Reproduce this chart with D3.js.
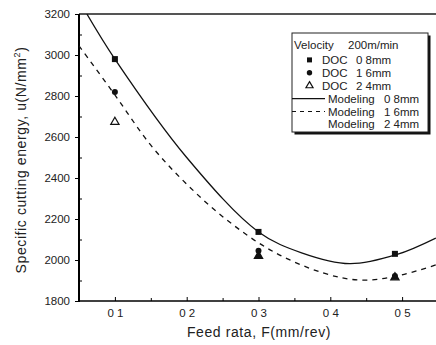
<!DOCTYPE html>
<html>
<head>
<meta charset="utf-8">
<script src="https://cdn.jsdelivr.net/npm/d3@7"></script>
<style>
  body { margin: 0; background: #fff; }
  svg { display: block; font-family: "Liberation Sans", Arial, sans-serif; }
</style>
</head>
<body>
<div id="chart"></div>
<script>
// measured points (feed rate, mm/rev)
const feed = [0.1, 0.3, 0.49];
const doc08 = [2980, 2137, 2030];
const doc16 = [2820, 2045, 1922];
const doc24 = [2673, 2020, 1915];

// modeling curves
const modelF08 = [0.061, 0.1, 0.2, 0.3, 0.36, 0.427, 0.493, 0.547];
const modelU08 = [3200, 2980, 2500, 2137, 2035, 1982, 2027, 2107];
const modelF16 = [0.05, 0.1, 0.15, 0.2, 0.256, 0.32, 0.39, 0.441, 0.493, 0.547];
const modelU16 = [3045, 2805, 2560, 2370, 2195, 2042, 1937, 1902, 1922, 1976];

const xTicks = [0.1, 0.2, 0.3, 0.4, 0.5];
const xTickLabels = ['0 1', '0 2', '0 3', '0 4', '0 5'];
const yTicks = [1800, 2000, 2200, 2400, 2600, 2800, 3000, 3200];

const legendRows = [
  { type: 'title', text: 'Velocity', value: '200m/min' },
  { type: 'square', text: 'DOC', value: '0 8mm' },
  { type: 'circle', text: 'DOC', value: '1 6mm' },
  { type: 'triangle', text: 'DOC', value: '2 4mm' },
  { type: 'solid', text: 'Modeling', value: '0 8mm' },
  { type: 'dashed', text: 'Modeling', value: '1 6mm' },
  { type: 'none', text: 'Modeling', value: '2 4mm' },
];

const width = 436;
const height = 345;
const plot = { left: 79, right: 438, top: 14, bottom: 301 };

const svg = d3.select('#chart')
  .append('svg')
  .attr('width', width)
  .attr('height', height);

const x = d3.scaleLinear().domain([0.05, 0.55]).range([plot.left, plot.right]);
const y = d3.scaleLinear().domain([1800, 3200]).range([plot.bottom, plot.top]);

svg.append('defs').append('clipPath').attr('id', 'clip')
  .append('rect')
  .attr('x', plot.left).attr('y', plot.top)
  .attr('width', plot.right - plot.left).attr('height', plot.bottom - plot.top);

// top frame line
svg.append('line')
  .attr('x1', plot.left).attr('x2', width)
  .attr('y1', y(3200)).attr('y2', y(3200))
  .attr('stroke', '#555').attr('stroke-width', 2);

// axes
const xAxis = svg.append('g')
  .attr('transform', `translate(0,${plot.bottom})`)
  .call(d3.axisBottom(x).tickValues(xTicks).tickSize(-4)
    .tickFormat((d, i) => xTickLabels[i]));
xAxis.select('.domain').remove();
xAxis.selectAll('.tick text').attr('dy', 13).attr('font-size', 11.5).attr('fill', '#222');

svg.append('g')
  .attr('transform', `translate(0,${plot.bottom})`)
  .call(d3.axisBottom(x).tickValues([0.15, 0.25, 0.35, 0.45]).tickSize(-3).tickFormat(''))
  .select('.domain').remove();

const yAxis = svg.append('g')
  .attr('transform', `translate(${plot.left},0)`)
  .call(d3.axisLeft(y).tickValues(yTicks).tickSize(4).tickPadding(5).tickFormat(d3.format('d')));
yAxis.select('.domain').remove();
yAxis.selectAll('.tick text').attr('font-size', 11.5).attr('fill', '#222');

svg.append('g')
  .attr('transform', `translate(${plot.left},0)`)
  .call(d3.axisLeft(y).tickValues(d3.range(1900, 3200, 200)).tickSize(-3).tickFormat(''))
  .select('.domain').remove();

svg.append('line')
  .attr('x1', plot.left).attr('x2', width)
  .attr('y1', plot.bottom).attr('y2', plot.bottom)
  .attr('stroke', '#000').attr('stroke-width', 1.5);
svg.append('line')
  .attr('x1', plot.left).attr('x2', plot.left)
  .attr('y1', plot.top).attr('y2', plot.bottom + 1)
  .attr('stroke', '#000').attr('stroke-width', 2);

// axis titles
svg.append('text')
  .attr('x', 259).attr('y', 337)
  .attr('text-anchor', 'middle')
  .attr('font-size', 14).attr('letter-spacing', 0.6).attr('fill', '#222')
  .text('Feed rata, F(mm/rev)');

const yTitle = svg.append('text')
  .attr('transform', 'translate(26,160) rotate(-90)')
  .attr('text-anchor', 'middle')
  .attr('font-size', 14).attr('letter-spacing', 0.6).attr('fill', '#222');
yTitle.append('tspan').text('Specific cutting energy, u(N/mm');
yTitle.append('tspan').attr('dy', -6).attr('font-size', 9).text('2');
yTitle.append('tspan').attr('dy', 6).text(')');

// model curves
const line = d3.line()
  .x((d) => x(d[0]))
  .y((d) => y(d[1]))
  .curve(d3.curveCatmullRom.alpha(0.5));

const curves = svg.append('g').attr('clip-path', 'url(#clip)');
curves.append('path')
  .datum(d3.zip(modelF08, modelU08))
  .attr('d', line)
  .attr('fill', 'none').attr('stroke', '#111').attr('stroke-width', 1.3);
curves.append('path')
  .datum(d3.zip(modelF16, modelU16))
  .attr('d', line)
  .attr('fill', 'none').attr('stroke', '#111').attr('stroke-width', 1.3)
  .attr('stroke-dasharray', '5,5');

// measured markers
const marks = svg.append('g');
marks.selectAll('.sq').data(d3.zip(feed, doc08)).join('rect')
  .attr('x', (d) => x(d[0]) - 3).attr('y', (d) => y(d[1]) - 3)
  .attr('width', 6).attr('height', 6).attr('fill', '#111');
marks.selectAll('.ci').data(d3.zip(feed, doc16)).join('circle')
  .attr('cx', (d) => x(d[0])).attr('cy', (d) => y(d[1]))
  .attr('r', 3).attr('fill', '#111');
const tri = d3.symbol().type(d3.symbolTriangle).size(30);
marks.selectAll('.tr').data(d3.zip(feed, doc24)).join('path')
  .attr('transform', (d) => `translate(${x(d[0])},${y(d[1])})`)
  .attr('d', tri)
  .attr('fill', (d, i) => (i === 0 ? '#fff' : '#111'))
  .attr('stroke', '#111').attr('stroke-width', 1.2);

// legend
const lg = svg.append('g').attr('transform', 'translate(292,33)');
lg.append('rect').attr('x', 2.5).attr('y', 2.5).attr('width', 136).attr('height', 99).attr('fill', '#111');
lg.append('rect').attr('x', 0).attr('y', 0).attr('width', 136).attr('height', 99)
  .attr('fill', '#fff').attr('stroke', '#222').attr('stroke-width', 1);

const fs = 11.5;
legendRows.forEach((r, i) => {
  const cy = i === 0 ? 12 : 14 + i * 12.9;
  const row = lg.append('g').attr('transform', `translate(0,${cy})`);
  const txt = row.append('text').attr('dy', '0.35em').attr('font-size', fs).attr('fill', '#222');
  if (r.type === 'title') {
    txt.attr('x', 2).text(r.text);
    row.append('text').attr('x', 56).attr('dy', '0.35em').attr('font-size', fs).attr('fill', '#222').text(r.value);
    return;
  }
  const isModel = r.text === 'Modeling';
  txt.attr('x', isModel ? 36 : 30).text(r.text);
  row.append('text').attr('x', isModel ? 92 : 64).attr('dy', '0.35em').attr('font-size', fs).attr('fill', '#222').text(r.value);
  if (r.type === 'square') {
    row.append('rect').attr('x', 15).attr('y', -2.5).attr('width', 5).attr('height', 5).attr('fill', '#111');
  } else if (r.type === 'circle') {
    row.append('circle').attr('cx', 17.5).attr('cy', 0).attr('r', 2.7).attr('fill', '#111');
  } else if (r.type === 'triangle') {
    row.append('path').attr('transform', 'translate(17.5,0)')
      .attr('d', d3.symbol().type(d3.symbolTriangle).size(22))
      .attr('fill', '#fff').attr('stroke', '#111').attr('stroke-width', 1.2);
  } else if (r.type === 'solid') {
    row.append('line').attr('x1', 0).attr('x2', 33).attr('y1', 0).attr('y2', 0)
      .attr('stroke', '#111').attr('stroke-width', 1.2);
  } else if (r.type === 'dashed') {
    row.append('line').attr('x1', 0).attr('x2', 33).attr('y1', 0).attr('y2', 0)
      .attr('stroke', '#111').attr('stroke-width', 1.2).attr('stroke-dasharray', '4,4');
  }
});
</script>
</body>
</html>
